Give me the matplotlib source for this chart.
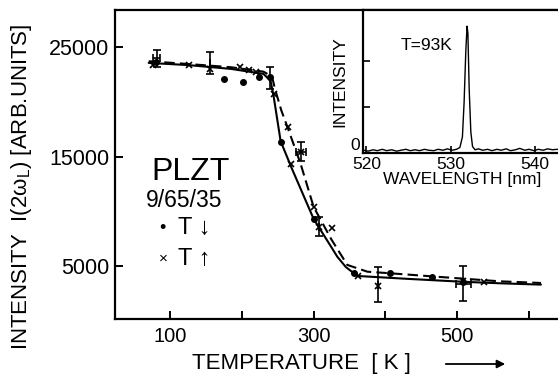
import matplotlib
matplotlib.use("Agg")
import matplotlib.pyplot as plt

plt.rcParams['font.family'] = ['Liberation Sans', 'DejaVu Sans']
plt.rcParams['mathtext.fontset'] = 'custom'
plt.rcParams['mathtext.rm'] = 'Liberation Sans'
plt.rcParams['mathtext.it'] = 'Liberation Sans:italic'

# ---------------- data ----------------
# T-down points (dots)
dots_T = [80, 175, 202, 224, 239, 254, 300, 356, 407, 465, 509]
dots_I = [23600, 22100, 21800, 22300, 22300, 16350, 9250, 4350, 4330, 4030, 3570]

# T-up points (crosses)
cross_T = [76, 126, 155, 198, 210, 219, 245, 264, 269, 282, 300, 307, 325, 362, 390, 509, 537]
cross_I = [23400, 23350, 22950, 23150, 22900, 22750, 20700, 17650, 14300, 15450,
           10400, 8600, 8450, 4100, 3200, 3600, 3580]

# error bars
err_T = [81, 155, 239, 282, 307, 390, 509]
err_I = [23970, 23520, 22170, 15440, 8600, 3310, 3400]
err_dI = [760, 1000, 1050, 850, 900, 1630, 1600]
err_dT = [5, 0, 0, 7, 0, 0, 11]

# solid curve (T down)
solid_T = [70, 125, 185, 230, 240, 244, 254, 269, 300, 324, 333, 345, 361, 430, 505, 560, 617]
solid_I = [23550, 23350, 23000, 22550, 21900, 20600, 16400, 14000, 9300, 6800, 5850,
           4900, 4090, 3830, 3570, 3420, 3300]

# dashed curve (T up)
dash_T = [70, 125, 185, 230, 242, 246, 255, 264, 282, 300, 325, 347, 375, 408, 501, 560, 617]
dash_I = [23700, 23450, 23150, 22750, 22300, 21200, 19200, 17600, 14300, 10400, 7400,
          5100, 4480, 4330, 3880, 3600, 3450]

# inset spectrum at T = 93 K
spec_wl = [519.7, 520.2, 520.8, 521.3, 521.9, 522.4, 523.0, 523.6, 524.1, 524.7, 525.2,
           525.8, 526.3, 526.9, 527.4, 528.0, 528.5, 529.1, 529.6, 530.2, 530.7, 531.1,
           531.4, 531.6, 531.8, 531.95, 532.05, 532.2, 532.4, 532.6, 532.9, 533.3, 533.8,
           534.4, 534.9, 535.5, 536.0, 536.6, 537.1, 537.7, 538.2, 538.8, 539.3, 539.9,
           540.4, 541.0, 541.5, 542.1, 542.6, 543.0]
spec_I = [0.06, 0.04, 0.07, 0.05, 0.08, 0.05, 0.07, 0.04, 0.06, 0.08, 0.05,
          0.07, 0.05, 0.08, 0.06, 0.05, 0.08, 0.06, 0.09, 0.06, 0.08, 0.12,
          0.35, 1.10, 2.20, 2.75, 2.60, 1.40, 0.45, 0.14, 0.07, 0.09, 0.06,
          0.08, 0.05, 0.08, 0.06, 0.09, 0.05, 0.07, 0.10, 0.06, 0.08, 0.05,
          0.08, 0.06, 0.09, 0.07, 0.08, 0.07]

main_xticks = [100, 200, 300, 400, 500, 600]
main_xticklabels = ['100', '', '300', '', '500', '']
main_yticks = [5000, 15000, 25000]
main_yticklabels = ['5000', '15000', '25000']
inset_xticks = [520, 530, 540]
inset_yticks = [0, 1, 2]
inset_yticklabels = ['0', '', '']

# ---------------- figure ----------------
W, H = 558, 376
fig = plt.figure(figsize=(W / 100, H / 100), dpi=100)

def fx(px):
    return px / W

def fy(py):
    return 1 - py / H

ax = fig.add_axes([fx(115), fy(319), fx(561) - fx(115), fy(10) - fy(319)])
ax.set_xlim(23, 645)
ax.set_ylim(160, 28380)

ax.plot(solid_T, solid_I, color='black', lw=1.5, solid_capstyle='round')
ax.plot(dash_T, dash_I, color='black', lw=1.5, dashes=(5, 2.5))
ax.plot(dots_T, dots_I, linestyle='none', marker='o', ms=4, color='black')
ax.plot(cross_T, cross_I, linestyle='none', marker='x', ms=5, mew=1.2, color='black')
ax.errorbar(err_T, err_I, yerr=err_dI, xerr=err_dT, fmt='none', ecolor='black',
            elinewidth=1.2, capsize=3, capthick=1.2)

for s in ['left', 'bottom', 'top']:
    ax.spines[s].set_linewidth(1.6)
ax.spines['right'].set_visible(False)

ax.set_xticks(main_xticks)
ax.set_xticklabels(main_xticklabels)
ax.set_yticks(main_yticks)
ax.set_yticklabels(main_yticklabels)
ax.tick_params(axis='both', direction='in', length=6, width=1.4)
ax.tick_params(axis='y', labelsize=15.5, pad=4)
ax.tick_params(axis='x', labelsize=14.5, pad=6)

# texts in main panel
fig.text(fx(151), fy(180), 'PLZT', fontsize=23, ha='left', va='baseline')
fig.text(fx(146), fy(207), '9/65/35', fontsize=16.5, ha='left', va='baseline')
fig.text(fx(162), fy(228), '•', fontsize=13, ha='center', va='center')
fig.text(fx(178), fy(228), 'T ↓', fontsize=17, ha='left', va='center')
fig.text(fx(163), fy(259), '×', fontsize=11, ha='center', va='center')
fig.text(fx(178), fy(259), 'T ↑', fontsize=17, ha='left', va='center')

# axis labels
fig.text(fx(22), fy(187), 'INTENSITY  I(2ω$_{\\mathrm{L}}$) [ARB.UNITS]', rotation=90,
         fontsize=16, ha='center', va='center')
fig.text(fx(301), fy(363), 'TEMPERATURE  [ K ]', fontsize=16, ha='center', va='center')
fig.add_artist(matplotlib.patches.FancyArrowPatch(
    (fx(443), fy(364)), (fx(508), fy(364)), transform=fig.transFigure,
    arrowstyle='-|>', mutation_scale=12, lw=1.3, color='black'))

# ---------------- inset ----------------
ins = fig.add_axes([fx(363), fy(153), fx(561) - fx(363), fy(10) - fy(153)])
ins.set_facecolor('white')
ins.set_xlim(519.6, 543.1)
ins.set_ylim(0, 3.1)
ins.plot(spec_wl, spec_I, color='black', lw=1.0)
for s in ['left', 'bottom', 'top']:
    ins.spines[s].set_linewidth(1.6)
ins.spines['right'].set_visible(False)
ins.set_xticks(inset_xticks)
ins.set_yticks(inset_yticks)
ins.set_yticklabels(inset_yticklabels)
ins.tick_params(axis='both', direction='in', length=5, width=1.2, labelsize=12.5)
ins.tick_params(axis='x', pad=3)
ins.tick_params(axis='y', pad=2)
ins.get_yticklabels()[0].set_verticalalignment('bottom')
ins.set_xlabel('WAVELENGTH [nm]', fontsize=12.5, labelpad=0)
ins.set_ylabel('INTENSITY', fontsize=12.5, labelpad=2)
ins.text(0.19, 0.75, 'T=93K', transform=ins.transAxes, fontsize=12.5, ha='left', va='center')

fig.savefig('out.png', dpi=100)
